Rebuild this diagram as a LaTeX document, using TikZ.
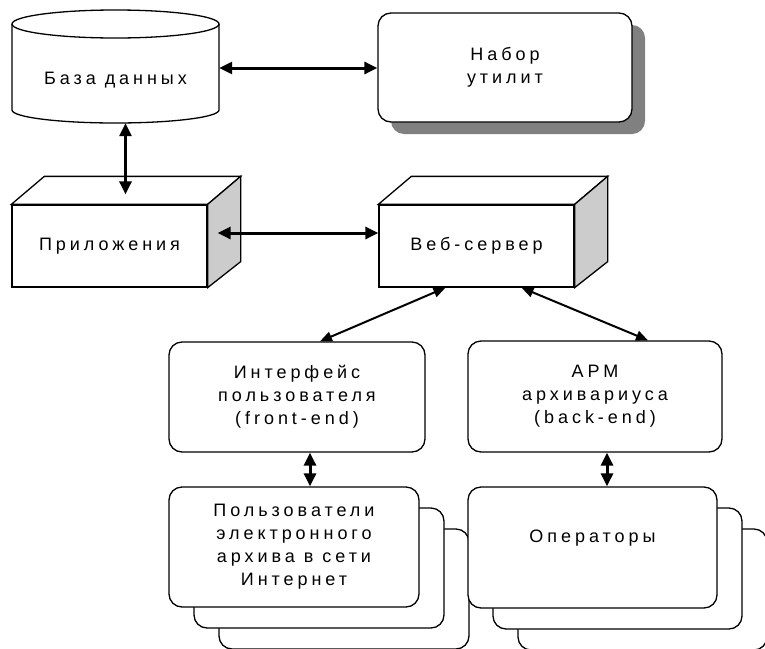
\documentclass[tikz,border=0pt]{standalone}
\usepackage{fontspec}
\setmainfont{Liberation Sans}[LetterSpace=22]
\usetikzlibrary{arrows.meta,shadows}

\begin{document}
\begin{tikzpicture}[x=1pt,y=-1pt,
	font=\fontsize{18pt}{23pt}\selectfont,
	cube/.style={draw,fill=white,line width=1.3pt,minimum width=195pt,minimum height=82pt,inner sep=0pt},
	rbox/.style={draw,fill=white,line width=1.3pt,rounded corners=13pt,align=center,inner sep=0pt},
	stack/.style={copy shadow={shadow xshift=50pt,shadow yshift=-42pt,line width=1.3pt},
		copy shadow={shadow xshift=25pt,shadow yshift=-21pt,line width=1.3pt}},
	link/.style={{Triangle[length=13pt,width=12pt]}-{Triangle[length=13pt,width=12pt]},line width=3pt},
	slant/.style={{Triangle[length=12pt,width=10pt]}-{Triangle[length=12pt,width=10pt]},line width=2pt}]
\useasboundingbox (0,0) rectangle (765,648);
\draw[fill=white,line width=1.3pt] (12,24) -- (12,110) arc[start angle=180,end angle=0,x radius=103.5,y radius=13]
	-- (219,24) arc[start angle=0,end angle=-180,x radius=103.5,y radius=14] -- cycle;
\draw[line width=1.3pt] (12,24) arc[start angle=180,end angle=0,x radius=103.5,y radius=14];
\node (db) [minimum width=207pt,minimum height=86pt,inner sep=0pt] at (115.5,80) {База данных};
\node (tools) [rbox,minimum width=254pt,minimum height=109pt,
	drop shadow={shadow xshift=13pt,shadow yshift=-12pt,fill=black!50,opacity=1}] at (505,67.5) {Набор\\утилит};
\node (app) [cube] at (109.5,246) {Приложения};
\node (web) [cube] at (476.5,246) {Веб-сервер};
\foreach \b in {app,web}{
	\draw[fill=white,line width=1.3pt] (\b.north west) -- ++(33,-28) -- ([shift={(33,-28)}]\b.north east) -- (\b.north east) -- cycle;
	\draw[fill=black!20,line width=1.3pt] (\b.north east) -- ++(33,-28) -- ([shift={(33,-26)}]\b.south east) -- (\b.south east) -- cycle;
}
\node (front) [rbox,minimum width=256pt,minimum height=110pt] at (297,397) {Интерфейс\\пользователя\\(front-end)};
\node (back) [rbox,minimum width=254pt,minimum height=111pt] at (595,396.5) {АРМ\\архивариуса\\(back-end)};
\node (users) [rbox,stack,minimum width=250pt,minimum height=120pt] at (294,547) {Пользователи\\электронного\\архива в сети\\Интернет};
\node (ops) [rbox,stack,minimum width=249pt,minimum height=121pt] at (592.5,547.5) {Операторы\\ \mbox{}};
\draw[link] ([yshift=12pt]db.east) -- ([yshift=12pt]db.east -| tools.west);
\draw[link] ([xshift=10pt]db.south) -- ([xshift=16pt,yshift=10pt]app.north);
\draw[link] ([xshift=10pt,yshift=13pt]app.east) -- ([yshift=13pt]web.west);
\draw[slant] ([xshift=-31pt]web.south) -- ([xshift=23pt]front.north);
\draw[slant] ([xshift=45pt]web.south) -- ([xshift=53pt]back.north);
\draw[link] ([xshift=13pt]front.south) -- ([xshift=16pt]users.north);
\draw[link] ([xshift=12pt]back.south) -- ([xshift=14.5pt]ops.north);
\end{tikzpicture}
\end{document}
